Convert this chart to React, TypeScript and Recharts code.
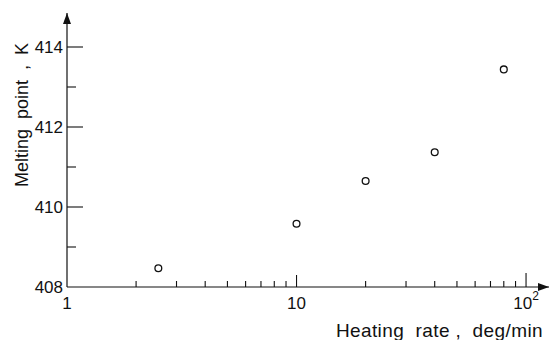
import React from "react";
import { ScatterChart, Scatter, XAxis, YAxis, ReferenceDot, Label } from "recharts";

const heatingRate = [2.5, 10, 20, 40, 80];
const meltingPoint = [408.47, 409.58, 410.65, 411.37, 413.44];

const xTicks = [1, 2, 3, 4, 5, 6, 7, 8, 9, 10, 20, 30, 40, 50, 60, 70, 80, 90, 100];
const xTickLabels: Record<number, string> = { 1: "1", 10: "10", 100: "10" };
const yTicks = [408, 409, 410, 411, 412, 413, 414];
const yTickLabels: Record<number, string> = { 408: "408", 410: "410", 412: "412", 414: "414" };

const X_MAX = 125.9;
const Y_MIN = 408;
const Y_MAX = 414.85;

const data = heatingRate.map((x, i) => ({ x, y: meltingPoint[i] }));

const TICK_FONT = "'Liberation Sans Narrow', 'Liberation Sans', sans-serif";

const XTick = (props: any) => {
  const { x, y, payload } = props;
  const v = payload.value as number;
  const major = v === 10 || v === 100;
  const len = v === 1 ? 0 : v === 100 ? 14 : major ? 12 : 6;
  const label = xTickLabels[v];
  return (
    <g>
      {len > 0 && <line x1={x} x2={x} y1={y} y2={y - len} stroke="#111" strokeWidth={1.1} />}
      {label && (
        <text x={x} y={y + 22} textAnchor="middle" fontFamily={TICK_FONT} fontSize={17} fill="#111">
          {label}
          {v === 100 && (
            <tspan dy={-9} fontSize={12}>2</tspan>
          )}
        </text>
      )}
    </g>
  );
};

const YTick = (props: any) => {
  const { x, y, payload } = props;
  const v = payload.value as number;
  const label = yTickLabels[v];
  const len = v === Y_MIN ? 0 : label ? 16 : 9;
  return (
    <g>
      {len > 0 && <line x1={x} x2={x + len} y1={y} y2={y} stroke="#111" strokeWidth={1.1} />}
      {label && (
        <text x={x - 4} y={y + 6} textAnchor="end" fontFamily={TICK_FONT} fontSize={17} fill="#111">
          {label}
        </text>
      )}
    </g>
  );
};

const OpenCircle = (props: any) => {
  const { cx, cy } = props;
  return <circle cx={cx} cy={cy} r={3.4} fill="#fff" stroke="#111" strokeWidth={1.3} />;
};

const RightArrow = (props: any) => {
  const { cx, cy } = props;
  return <path d={`M${cx},${cy} L${cx - 11},${cy - 4} L${cx - 11},${cy + 4} Z`} fill="#111" />;
};

const UpArrow = (props: any) => {
  const { cx, cy } = props;
  return <path d={`M${cx},${cy} L${cx - 4},${cy + 11} L${cx + 4},${cy + 11} Z`} fill="#111" />;
};

export default function App() {
  return (
    <div style={{ position: "absolute", left: 0, top: 0, width: 550, height: 340, background: "#fff" }}>
      <ScatterChart width={550} height={340} margin={{ top: 13, right: 1, bottom: 0, left: 0 }}>
        <XAxis
          type="number"
          dataKey="x"
          scale="log"
          domain={[1, X_MAX]}
          ticks={xTicks}
          interval={0}
          allowDataOverflow
          height={53}
          tickSize={0}
          tickMargin={0}
          tickLine={false}
          axisLine={{ stroke: "#111", strokeWidth: 1.2 }}
          tick={<XTick />}
        >
          <Label
            content={() => (
              <text
                x={543}
                y={337}
                textAnchor="end"
                fontFamily={TICK_FONT}
                fontSize={19}
                letterSpacing={0.4}
                fill="#111"
                style={{ whiteSpace: "pre" }}
              >
                {"Heating  rate ,  deg/min"}
              </text>
            )}
          />
        </XAxis>
        <YAxis
          type="number"
          dataKey="y"
          domain={[Y_MIN, Y_MAX]}
          ticks={yTicks}
          interval={0}
          allowDataOverflow
          width={67}
          tickSize={0}
          tickMargin={0}
          tickLine={false}
          axisLine={{ stroke: "#111", strokeWidth: 1.2 }}
          tick={<YTick />}
        >
          <Label
            content={() => (
              <text
                x={28}
                y={115}
                textAnchor="middle"
                transform="rotate(-90 28 115)"
                fontFamily="'Liberation Sans', sans-serif"
                fontSize={18}
                fill="#111"
                style={{ whiteSpace: "pre" }}
              >
                {"Melting  point  ,  K"}
              </text>
            )}
          />
        </YAxis>
        <Scatter data={data} isAnimationActive={false} shape={<OpenCircle />} />
        <ReferenceDot x={X_MAX} y={Y_MIN} r={0} ifOverflow="visible" shape={<RightArrow />} />
        <ReferenceDot x={1} y={Y_MAX} r={0} ifOverflow="visible" shape={<UpArrow />} />
      </ScatterChart>
    </div>
  );
}
